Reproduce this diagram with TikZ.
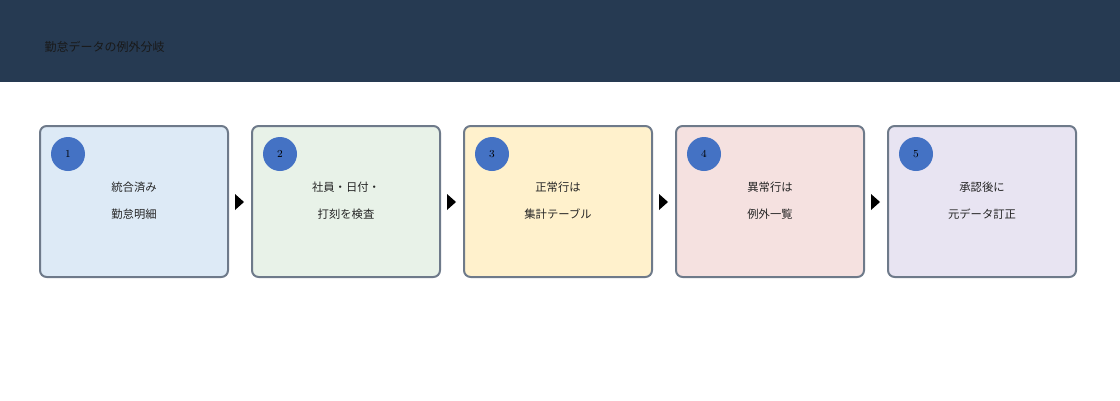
\documentclass[tikz,border=0pt]{standalone}
\usepackage{fontspec}
\newfontfamily\cjk{Noto Sans CJK JP}
\begin{document}
\begin{tikzpicture}[x=0.75pt,y=-0.75pt,
  box/.style={draw=black!40!gray!90!blue!60, draw=gray!80!black, line width=1.5pt, rounded corners=4pt},
  num/.style={circle, fill=blue!50!cyan!30!black!0, fill={rgb,255:red,68;green,114;blue,196}, minimum size=25.5pt, inner sep=0pt, font=\rmfamily\fontsize{8}{9}\selectfont},
  lbl/.style={font=\cjk\fontsize{8.5}{10}\selectfont, text=black!85},
  arr/.style={fill=black}]
\useasboundingbox (0,0) rectangle (1120,400);
\fill[fill={rgb,255:red,38;green,58;blue,82}] (0,0) rectangle (1120,82);
\node[anchor=west, font=\cjk\fontsize{9}{10}\selectfont, text=black!90] (title) at (40,47) {勤怠データの例外分岐};
\definecolor{c1}{RGB}{221,234,246}
\definecolor{c2}{RGB}{232,242,232}
\definecolor{c3}{RGB}{255,241,204}
\definecolor{c4}{RGB}{245,225,224}
\definecolor{c5}{RGB}{232,228,242}
\definecolor{bd}{RGB}{110,122,138}
\foreach \i/\c/\a/\b in {0/c1/統合済み/勤怠明細,1/c2/社員・日付・/打刻を検査,2/c3/正常行は/集計テーブル,3/c4/異常行は/例外一覧,4/c5/承認後に/元データ訂正}{
  \pgfmathsetmacro\X{40+212*\i}
  \draw[fill=\c, draw=bd, line width=1.5pt, rounded corners=5pt] (\X,126) rectangle +(188,151);
  \node[num] (n\i) at (\X+28,154) {\pgfmathparse{int(\i+1)}\pgfmathresult};
  \node[lbl] (a\i) at (\X+94,187) {\a};
  \node[lbl] (b\i) at (\X+94,214) {\b};
}
\foreach \i in {0,1,2,3}{
  \pgfmathsetmacro\X{235+212*\i}
  \coordinate (t\i) at (\X,194);
  \fill (t\i) -- ++(9,8) -- ++(-9,8) -- cycle;
}
\end{tikzpicture}
\end{document}
